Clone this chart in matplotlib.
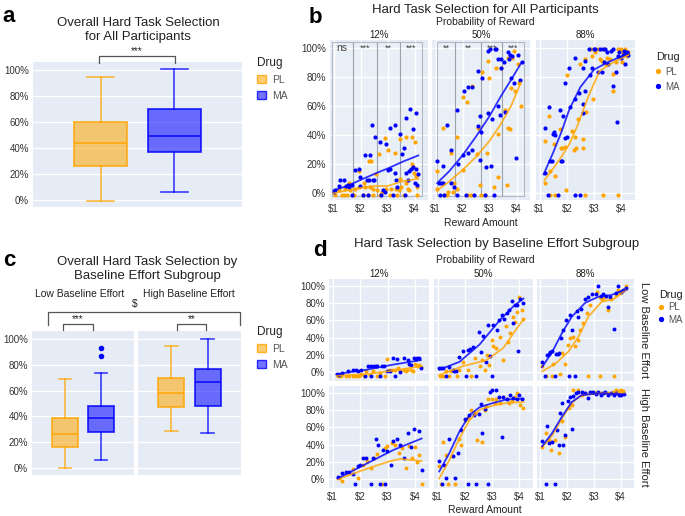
import matplotlib.pyplot as plt
from matplotlib.lines import Line2D
from matplotlib.patches import Patch, Rectangle
from matplotlib.colors import to_rgba
import matplotlib.transforms as mtransforms

plt.rcParams['font.family'] = ['Liberation Sans', 'DejaVu Sans']

# ---------------- data ----------------
drugs = ['PL', 'MA']
probs = ['12%', '50%', '88%']
subgroups = ['Low Baseline Effort', 'High Baseline Effort']
pct_ticks = [0, 0.2, 0.4, 0.6, 0.8, 1.0]
pct_labels = ['0%', '20%', '40%', '60%', '80%', '100%']
reward_ticks = [1, 2, 3, 4]
reward_labels = ['\\$1', '\\$2', '\\$3', '\\$4']

# box stats: whislo, q1, med, q3, whishi
a_pl = [-0.01, 0.26, 0.44, 0.60, 0.95]
a_ma = [0.06, 0.37, 0.49, 0.70, 1.01]
c_low_pl = [0.0, 0.16, 0.26, 0.385, 0.69]
c_low_ma = [0.06, 0.28, 0.39, 0.48, 0.74]
c_low_ma_out = [0.87, 0.93]
c_high_pl = [0.285, 0.47, 0.58, 0.695, 0.95]
c_high_ma = [0.27, 0.477, 0.665, 0.77, 1.0]

# significance bins in panel b (12% and 50%)
b12_bins = [0.93, 1.71, 2.61, 3.47, 4.26]
b12_sig = ['ns', '***', '**', '***']
b50_bins = [1.04, 1.74, 2.70, 3.48, 4.26]
b50_sig = ['**', '**', '***', '***']

# panel b points (reward, proportion)
b12_pl = [(1.05, -0.01), (1.20, 0.02), (1.30, -0.01), (1.39, -0.01), (1.43, 0.03), (1.51, -0.01), (1.58, 0.07),
          (1.60, 0.02), (1.73, -0.01), (1.76, -0.01), (1.80, 0.03), (1.93, 0.04), (1.95, 0.15), (2.08, -0.01),
          (2.14, 0.07), (2.18, 0.04), (2.26, -0.01), (2.33, 0.22), (2.35, 0.04), (2.39, 0.22), (2.45, 0.03),
          (2.48, -0.01), (2.58, 0.13), (2.60, 0.02), (2.70, 0.27), (2.73, -0.01), (2.80, 0.01), (2.89, 0.38),
          (2.95, 0.03), (3.01, 0.30), (3.08, -0.01), (3.14, 0.03), (3.26, 0.28), (3.30, 0.03), (3.35, -0.01),
          (3.43, 0.02), (3.45, 0.37), (3.48, 0.10), (3.51, 0.04), (3.60, -0.01), (3.68, 0.39), (3.70, 0.07),
          (3.75, 0.03), (3.80, 0.02), (3.89, 0.39), (3.90, 0.20), (3.95, 0.18), (3.98, 0.14), (4.01, 0.35),
          (4.05, 0.12), (4.08, 0.04), (4.10, -0.01)]
b12_ma = [(1.01, 0.01), (1.05, 0.02), (1.20, 0.05), (1.23, 0.09), (1.39, 0.09), (1.48, 0.05), (1.55, 0.06),
          (1.58, 0.04), (1.68, -0.01), (1.68, 0.06), (1.80, 0.16), (1.95, 0.17), (1.98, 0.11), (1.99, 0.05),
          (2.08, -0.01), (2.18, 0.26), (2.23, 0.09), (2.26, -0.01), (2.33, 0.09), (2.35, 0.26), (2.43, 0.47),
          (2.45, 0.09), (2.51, 0.09), (2.55, 0.39), (2.73, 0.35), (2.76, -0.01), (2.83, 0.02), (2.89, 0.01),
          (2.93, 0.34), (3.01, 0.16), (3.08, 0.45), (3.10, 0.17), (3.20, -0.01), (3.26, 0.47), (3.26, 0.14),
          (3.33, 0.09), (3.36, 0.04), (3.48, 0.41), (3.55, 0.27), (3.60, 0.31), (3.64, -0.01), (3.68, 0.52),
          (3.70, 0.14), (3.76, 0.09), (3.80, 0.15), (3.85, 0.58), (3.88, 0.17), (3.93, 0.44), (3.95, 0.18),
          (4.01, 0.07), (4.05, 0.55), (4.05, 0.17), (4.08, 0.06), (4.14, 0.13)]
b12_pl_fit = [(1.0, 0.0), (1.5, 0.02), (2.1, 0.04), (2.5, 0.05), (3.0, 0.05), (3.5, 0.08), (4.14, 0.10)]
b12_ma_fit = [(1.0, 0.02), (1.5, 0.05), (2.1, 0.10), (2.6, 0.14), (3.0, 0.17), (3.6, 0.22), (4.14, 0.26)]

b50_pl = [(1.05, 0.03), (1.07, 0.15), (1.26, 0.45), (1.32, -0.01), (1.44, -0.01), (1.47, 0.01), (1.59, 0.28),
          (1.63, 0.01), (1.67, 0.07), (1.79, 0.03), (1.81, 0.39), (2.00, 0.16), (2.01, 0.66), (2.16, 0.63),
          (2.21, -0.01), (2.31, -0.01), (2.37, 0.74), (2.53, 0.27), (2.56, 0.45), (2.65, 0.06), (2.68, -0.01),
          (2.74, 0.83), (2.83, -0.01), (2.90, 0.28), (2.93, 0.91), (2.99, 0.79), (3.15, 0.04), (3.23, 0.86),
          (3.30, 0.41), (3.32, 0.11), (3.44, 0.86), (3.57, 0.57), (3.64, 0.06), (3.67, 0.93), (3.67, 0.45),
          (3.77, 0.44), (3.81, 0.72), (3.85, 0.93), (3.89, 0.98), (3.94, 0.70), (4.04, 0.89), (4.10, 0.76),
          (4.16, 0.60)]
b50_ma = [(1.05, 0.22), (1.14, 0.07), (1.17, -0.01), (1.20, 0.07), (1.26, 0.19), (1.26, 0.07), (1.32, -0.01),
          (1.44, 0.47), (1.59, 0.07), (1.59, 0.30), (1.69, 0.04), (1.79, -0.01), (1.81, 0.57), (1.84, 0.20),
          (2.00, 0.26), (2.04, 0.70), (2.12, -0.01), (2.19, 0.73), (2.21, 0.28), (2.37, 0.73), (2.37, 0.30),
          (2.43, -0.01), (2.56, 0.84), (2.58, 0.46), (2.65, 0.53), (2.65, 0.23), (2.70, 0.42), (2.74, 0.79),
          (2.83, -0.01), (2.86, 0.18), (2.93, 0.55), (2.93, 0.98), (3.02, 0.99), (3.05, 0.19), (3.11, 0.51),
          (3.15, -0.01), (3.20, 0.99), (3.23, 0.99), (3.30, 0.60), (3.32, 0.92), (3.40, 0.54), (3.42, 0.86),
          (3.44, 0.92), (3.54, 0.90), (3.57, 0.56), (3.67, 0.97), (3.73, 0.92), (3.77, 0.95), (3.81, 0.79),
          (3.85, 0.94), (3.89, 0.76), (3.98, 0.24), (4.06, 0.95), (4.14, 0.78), (4.19, 0.90)]
b50_pl_fit = [(1.06, 0.02), (1.5, 0.08), (2.0, 0.16), (2.5, 0.25), (3.0, 0.36), (3.4, 0.47), (3.8, 0.60),
              (4.16, 0.76)]
b50_ma_fit = [(1.06, 0.07), (1.5, 0.15), (2.0, 0.26), (2.5, 0.39), (3.0, 0.53), (3.4, 0.66), (3.8, 0.78),
              (4.19, 0.90)]

b88_pl = [(1.20, 0.07), (1.20, 0.36), (1.35, 0.53), (1.37, -0.01), (1.38, 0.15), (1.55, -0.01), (1.53, 0.34),
          (1.56, 0.12), (1.75, 0.44), (1.77, 0.31), (1.84, 0.31), (1.93, 0.32), (1.97, 0.02), (1.99, 0.81),
          (2.18, 0.43), (2.26, 0.30), (2.30, 0.39), (2.33, 0.31), (2.42, 0.51), (2.48, 0.89), (2.58, 0.31),
          (2.60, 0.37), (2.65, -0.01), (2.66, 0.92), (2.70, 0.56), (2.87, 0.99), (2.91, 0.94), (2.97, 0.65),
          (3.03, 0.97), (3.15, 0.99), (3.22, 0.92), (3.28, 0.91), (3.33, -0.01), (3.36, 0.99), (3.44, 0.89),
          (3.48, 0.93), (3.58, 0.92), (3.68, 0.70), (3.70, 0.82), (3.80, 0.90), (3.88, -0.01), (3.89, 0.99),
          (3.97, 0.99), (4.01, 0.90), (4.07, 0.97), (4.13, 0.99), (4.22, 0.94), (4.26, 0.97)]
b88_ma = [(1.20, 0.14), (1.20, 0.45), (1.31, -0.01), (1.35, 0.59), (1.38, 0.22), (1.44, 0.22), (1.48, 0.41),
          (1.53, 0.42), (1.56, 0.40), (1.67, -0.01), (1.75, 0.57), (1.77, 0.22), (1.81, 0.22), (1.87, 0.53),
          (1.93, 0.38), (1.99, 0.39), (1.93, 0.76), (2.09, 0.86), (2.11, 0.59), (2.29, -0.01), (2.30, 0.65),
          (2.30, 0.93), (2.47, -0.01), (2.46, 0.69), (2.58, 0.55), (2.58, 0.61), (2.66, 0.70), (2.60, 0.86),
          (2.66, 0.91), (2.82, 0.99), (2.85, 0.81), (2.91, 0.86), (3.00, 0.99), (3.03, 0.99), (3.15, 0.83),
          (3.22, 0.99), (3.28, 0.83), (3.34, 0.99), (3.36, 0.90), (3.40, 0.99), (3.48, 0.97), (3.52, 0.89),
          (3.61, 0.98), (3.68, 0.74), (3.70, 0.99), (3.80, 0.83), (3.85, 0.49), (3.89, 0.94), (3.93, 0.97),
          (3.97, 0.93), (4.07, 0.95), (4.10, 0.98), (4.13, 0.89), (4.17, 0.96), (4.22, 0.97), (4.26, 0.95)]
b88_pl_fit = [(1.18, 0.09), (1.5, 0.17), (1.8, 0.25), (2.1, 0.34), (2.4, 0.47), (2.8, 0.67), (3.2, 0.84),
              (3.7, 0.90), (4.26, 0.95)]
b88_ma_fit = [(1.15, 0.13), (1.5, 0.28), (1.8, 0.42), (2.1, 0.58), (2.5, 0.73), (3.0, 0.85), (3.5, 0.90),
              (4.0, 0.94), (4.26, 0.97)]

# panel d points, low baseline effort
d12_low_pl = [(1.18, -0.04), (1.30, -0.04), (1.49, -0.04), (1.61, -0.04), (1.73, -0.04), (1.86, -0.04),
              (1.96, -0.04), (2.04, -0.02), (2.13, -0.04), (2.23, 0.01), (2.35, -0.03), (2.48, 0.01),
              (2.60, -0.04), (2.72, -0.01), (2.91, -0.04), (2.99, 0.15), (3.03, 0.03), (3.15, 0.03), (3.28, 0.03),
              (3.36, 0.05), (3.46, 0.01), (3.59, 0.03), (3.65, 0.01), (3.71, 0.03), (3.83, 0.03), (3.93, 0.01),
              (3.98, 0.10), (4.06, 0.07), (4.14, 0.08), (4.20, 0.06)]
d12_low_ma = [(1.15, -0.02), (1.24, -0.03), (1.36, -0.01), (1.55, 0.01), (1.73, 0.03), (1.86, 0.03),
              (1.92, 0.02), (2.04, 0.03), (2.17, -0.04), (2.29, 0.07), (2.38, -0.04), (2.41, 0.07), (2.50, 0.07),
              (2.57, 0.07), (2.62, 0.07), (2.72, -0.04), (2.78, 0.07), (2.85, 0.07), (2.97, 0.01), (3.09, 0.01),
              (3.19, 0.16), (3.28, -0.04), (3.34, 0.15), (3.46, 0.0), (3.59, 0.16), (3.73, 0.14), (3.77, 0.10),
              (3.86, 0.08), (3.96, 0.17), (4.02, 0.15), (4.08, 0.16), (4.14, 0.16), (4.20, 0.05)]
d12_low_pl_fit = [(1.15, -0.04), (2.23, -0.02), (3.22, 0.02), (4.2, 0.07)]
d12_low_ma_fit = [(1.15, -0.02), (2.23, 0.03), (3.22, 0.09), (4.2, 0.14)]

d50_low_pl = [(1.09, -0.04), (1.19, -0.04), (1.31, 0.01), (1.41, -0.04), (1.49, 0.01), (1.62, 0.03),
              (1.70, -0.04), (1.80, 0.03), (1.93, 0.12), (2.11, 0.03), (2.23, -0.04), (2.36, 0.16), (2.54, 0.07),
              (2.64, 0.14), (2.73, 0.03), (2.81, 0.20), (2.89, 0.08), (2.98, 0.37), (3.04, 0.30), (3.16, 0.28),
              (3.28, 0.41), (3.41, 0.14), (3.51, 0.53), (3.59, 0.35), (3.65, 0.45), (3.78, 0.64), (3.84, 0.58),
              (3.90, 0.70), (4.00, 0.87), (4.09, 0.72), (4.15, 0.61)]
d50_low_ma = [(1.06, 0.05), (1.12, 0.05), (1.21, 0.05), (1.31, -0.04), (1.43, 0.06), (1.56, 0.03), (1.62, 0.02),
              (1.68, 0.02), (1.78, 0.18), (1.93, 0.24), (2.05, -0.04), (2.11, 0.26), (2.20, 0.27), (2.30, 0.29),
              (2.42, -0.04), (2.52, 0.47), (2.60, 0.23), (2.67, 0.42), (2.77, 0.12), (2.85, 0.55), (2.91, 0.19),
              (3.01, -0.04), (3.04, 0.55), (3.19, 0.49), (3.26, 0.60), (3.35, 0.66), (3.43, 0.61), (3.53, 0.68),
              (3.63, 0.72), (3.72, 0.82), (3.78, 0.57), (3.84, 0.77), (3.90, 0.77), (3.96, 0.24), (4.02, 0.85),
              (4.15, 0.80)]
d50_low_pl_fit = [(1.06, -0.03), (1.93, 0.07), (2.79, 0.14), (3.41, 0.28), (3.78, 0.45), (4.15, 0.61)]
d50_low_ma_fit = [(1.06, 0.03), (1.8, 0.12), (2.54, 0.32), (3.28, 0.60), (3.78, 0.76), (4.15, 0.85)]

d88_low_pl = [(1.06, 0.07), (1.19, -0.04), (1.43, -0.04), (1.46, 0.10), (1.74, -0.02), (1.80, 0.22),
              (1.93, 0.10), (2.02, 0.32), (2.11, 0.39), (2.23, 0.41), (2.30, 0.30), (2.42, 0.37), (2.48, 0.49),
              (2.60, 0.57), (2.73, 0.68), (2.79, -0.04), (2.85, 0.78), (3.10, 0.93), (3.22, -0.04), (3.22, 0.87),
              (3.31, 0.84), (3.41, 0.87), (3.53, 0.72), (3.65, 0.85), (3.75, -0.04), (3.84, 0.89), (3.90, 0.95),
              (3.96, 0.91), (4.05, 0.94), (4.15, 0.96), (4.21, 0.99)]
d88_low_ma = [(1.06, 0.12), (1.16, -0.04), (1.25, 0.20), (1.31, 0.21), (1.37, 0.23), (1.43, 0.25), (1.53, -0.04),
              (1.58, 0.21), (1.65, 0.21), (1.70, 0.22), (1.78, 0.39), (1.86, 0.49), (1.95, 0.60), (2.05, -0.04),
              (2.11, 0.66), (2.17, 0.49), (2.30, -0.04), (2.36, 0.71), (2.42, 0.64), (2.52, 0.73), (2.67, 0.85),
              (2.79, 0.87), (2.91, 0.90), (3.06, 0.90), (3.16, 0.99), (3.26, 0.88), (3.35, 0.90), (3.47, 0.88),
              (3.53, 0.75), (3.59, 0.87), (3.75, 0.50), (3.84, 0.91), (3.90, 1.00), (4.02, 0.92), (4.09, 0.95),
              (4.21, 0.97)]
d88_low_pl_fit = [(1.06, 0.01), (1.56, 0.10), (2.05, 0.24), (2.42, 0.41), (2.79, 0.64), (3.28, 0.81),
                  (3.78, 0.85), (4.21, 0.96)]
d88_low_ma_fit = [(1.06, 0.06), (1.43, 0.23), (1.8, 0.45), (2.17, 0.64), (2.67, 0.80), (3.16, 0.87),
                  (3.65, 0.89), (4.21, 0.96)]

# panel d points, high baseline effort
d12_high_pl = [(1.22, 0.02), (1.36, -0.02), (1.55, 0.07), (1.73, 0.12), (1.92, 0.01), (2.10, 0.17), (2.25, 0.21),
               (2.41, 0.13), (2.50, 0.24), (2.62, 0.29), (2.78, -0.05), (2.91, 0.36), (2.99, 0.38), (3.15, 0.42),
               (3.28, 0.40), (3.40, 0.30), (3.52, 0.36), (3.65, 0.13), (3.77, 0.38), (3.90, 0.25), (3.98, 0.37),
               (4.06, 0.20), (4.14, 0.28), (4.23, -0.05)]
d12_high_ma = [(1.18, 0.03), (1.34, 0.07), (1.49, 0.08), (1.61, 0.08), (1.73, 0.06), (1.83, -0.05), (1.92, 0.15),
               (2.01, 0.17), (2.10, 0.25), (2.23, 0.25), (2.38, -0.05), (2.45, 0.25), (2.57, 0.47), (2.66, 0.39),
               (2.72, -0.05), (2.82, 0.34), (2.91, -0.05), (2.99, 0.33), (3.12, 0.16), (3.19, 0.44), (3.34, 0.47),
               (3.46, 0.39), (3.61, 0.25), (3.73, 0.53), (3.86, 0.37), (3.96, 0.58), (4.14, 0.56), (4.23, 0.11)]
d12_high_pl_fit = [(1.18, 0.0), (2.23, 0.12), (3.09, 0.21), (3.46, 0.235), (4.23, 0.21)]
d12_high_ma_fit = [(1.18, 0.01), (2.23, 0.18), (3.22, 0.34), (4.23, 0.47)]

d50_high_pl = [(1.06, 0.15), (1.12, -0.05), (1.21, 0.43), (1.31, 0.28), (1.37, -0.05), (1.53, 0.27),
               (1.65, -0.05), (1.78, 0.47), (1.86, 0.40), (1.99, 0.68), (2.11, 0.71), (2.23, 0.80), (2.36, 0.76),
               (2.44, 0.45), (2.64, 0.43), (2.73, 0.80), (2.79, 0.84), (2.85, 0.92), (2.98, 0.93), (3.10, 0.88),
               (3.16, 0.93), (3.28, 0.88), (3.41, 0.95), (3.53, 0.92), (3.63, 0.88), (3.72, 0.90), (3.84, 0.95),
               (3.90, 0.99), (4.02, 0.86), (4.15, 0.82)]
d50_high_ma = [(1.06, 0.21), (1.16, -0.05), (1.25, 0.17), (1.31, 0.01), (1.41, 0.47), (1.56, 0.27), (1.65, 0.01),
               (1.74, 0.30), (1.86, 0.57), (1.99, 0.70), (2.11, -0.05), (2.17, 0.74), (2.32, 0.74), (2.42, -0.05),
               (2.52, 0.75), (2.60, 0.87), (2.64, 0.53), (2.73, 0.81), (2.85, -0.05), (2.94, 1.01), (3.01, 1.03),
               (3.16, 1.03), (3.26, 0.95), (3.35, 0.49), (3.41, 0.95), (3.53, 0.93), (3.65, 0.97), (3.78, 0.94),
               (3.90, 0.92), (4.00, 0.97), (4.09, 0.93)]
d50_high_pl_fit = [(1.06, 0.01), (1.43, 0.22), (1.8, 0.47), (2.17, 0.68), (2.54, 0.80), (3.04, 0.85),
                   (3.53, 0.88), (4.15, 0.89)]
d50_high_ma_fit = [(1.06, 0.09), (1.43, 0.30), (1.8, 0.55), (2.17, 0.74), (2.54, 0.83), (3.04, 0.88),
                   (3.53, 0.92), (4.15, 0.93)]

d88_high_pl = [(1.06, 0.37), (1.21, 0.53), (1.31, 0.45), (1.41, 0.34), (1.56, 0.45), (1.68, 0.30), (1.80, 0.67),
               (1.93, 0.49), (2.05, 0.82), (2.17, 0.86), (2.23, 1.03), (2.42, 1.03), (2.54, 0.97), (2.67, 0.99),
               (2.91, 1.01), (3.10, 1.01), (3.28, 1.00), (3.53, 1.00), (3.72, 1.01), (3.84, 1.03), (3.93, 1.02),
               (4.02, 1.03), (4.09, 1.02)]
d88_high_ma = [(1.06, 0.44), (1.19, -0.05), (1.25, 0.61), (1.33, 0.42), (1.43, 0.43), (1.56, -0.05), (1.62, 0.57),
               (1.68, 0.40), (1.74, 0.76), (1.80, 0.88), (1.86, 0.40), (1.93, 0.51), (2.02, 0.90), (2.11, 0.95),
               (2.17, 0.58), (2.23, 0.96), (2.32, 0.99), (2.42, 1.01), (2.54, 1.01), (2.67, 0.99), (2.77, 0.94),
               (2.85, 1.01), (2.98, 1.01), (3.06, 0.98), (3.16, 1.01), (3.26, 0.97), (3.35, 0.99), (3.43, 1.01),
               (3.53, 0.97), (3.65, 0.99), (3.75, 0.97), (3.84, 0.99), (3.93, 0.97), (4.02, 0.97), (4.12, 0.98)]
d88_high_pl_fit = [(1.06, 0.37), (1.43, 0.50), (1.8, 0.70), (2.17, 0.88), (2.54, 0.97), (3.16, 0.99),
                   (4.15, 0.99)]
d88_high_ma_fit = [(1.06, 0.38), (1.43, 0.53), (1.8, 0.72), (2.17, 0.89), (2.54, 0.97), (3.16, 0.99),
                   (4.15, 0.98)]

# ---------------- style ----------------
W, H = 685, 516
PL_C = '#FFA500'
MA_C = '#0000FF'
BG = '#E5ECF6'
TXT = '#333333'

fig = plt.figure(figsize=(W / 100, H / 100), dpi=100)


def px_axes(x0, y0, x1, y1):
    return fig.add_axes([x0 / W, 1 - y1 / H, (x1 - x0) / W, (y1 - y0) / H])


def fig_text(x, y, s, **kw):
    kw.setdefault('ha', 'center')
    kw.setdefault('va', 'center')
    kw.setdefault('color', '#222222')
    fig.text(x / W, 1 - y / H, s, **kw)


def bracket(x0, x1, ytop, ybot):
    fig.add_artist(Line2D([x0 / W, x0 / W, x1 / W, x1 / W],
                          [1 - ybot / H, 1 - ytop / H, 1 - ytop / H, 1 - ybot / H],
                          color='#555555', lw=0.9, transform=fig.transFigure))


def base_style(ax, ylim, show_y=True):
    ax.set_facecolor(BG)
    for s in ax.spines.values():
        s.set_visible(False)
    ax.tick_params(length=0, labelsize=7, colors=TXT, pad=3)
    ax.set_ylim(*ylim)
    ax.set_yticks(pct_ticks)
    ax.set_yticklabels(pct_labels if show_y else [])
    ax.grid(True, color='white', lw=1.0)
    ax.set_axisbelow(True)


def box_panel(ax, stats_pl, stats_ma, fliers_ma=(), show_y=True):
    base_style(ax, (-0.055, 1.065), show_y)
    for stats, fl, pos, col in [(stats_pl, (), -0.177, PL_C), (stats_ma, fliers_ma, 0.177, MA_C)]:
        lo, q1, med, q3, hi = stats
        ax.bxp([dict(whislo=lo, q1=q1, med=med, q3=q3, whishi=hi, fliers=list(fl))],
               positions=[pos], widths=0.25, patch_artist=True,
               boxprops=dict(facecolor=to_rgba(col, 0.55), edgecolor=to_rgba(col, 0.8), lw=1.3),
               medianprops=dict(color=col, lw=1.3, alpha=0.8),
               whiskerprops=dict(color=col, lw=1.2, alpha=0.75),
               capprops=dict(color=col, lw=1.2, alpha=0.75),
               flierprops=dict(marker='o', markersize=3, markerfacecolor=col, markeredgecolor=col))
    ax.set_xlim(-0.5, 0.5)
    ax.set_xticks([])


def scatter_panel(ax, pl, ma, pl_fit, ma_fit, ylim, show_y, show_x, size=9):
    base_style(ax, ylim, show_y)
    ax.set_xlim(0.87, 4.5)
    ax.set_xticks(reward_ticks)
    ax.set_xticklabels(reward_labels if show_x else [])
    for pts, col in [(pl, PL_C), (ma, MA_C)]:
        xs, ys = zip(*pts)
        ax.scatter(xs, ys, s=size, color=col, linewidths=0, zorder=3)
    for fit, col in [(pl_fit, PL_C), (ma_fit, MA_C)]:
        fx, fy = zip(*fit)
        ax.plot(fx, fy, color=col, lw=1.3, alpha=0.8, zorder=4)


def sig_bands(ax, bins, labels):
    trans = mtransforms.blended_transform_factory(ax.transData, ax.transAxes)
    for lo, hi, lab in zip(bins[:-1], bins[1:], labels):
        ax.add_patch(Rectangle((lo, 0.025), hi - lo, 0.965, transform=trans, facecolor='white', alpha=0.18,
                               edgecolor='none', zorder=1))
        ax.add_patch(Rectangle((lo, 0.025), hi - lo, 0.965, transform=trans, facecolor='none',
                               edgecolor='#8f969e', lw=0.8, alpha=0.6, zorder=2))
        ax.text((lo + hi) / 2, 0.95, lab, transform=trans, ha='center', va='center',
                fontsize=7.5 if lab == 'ns' else 6.5, color='#444444', zorder=5)


box_handles = [Patch(facecolor=to_rgba(PL_C, 0.55), edgecolor=to_rgba(PL_C, 0.8), label='PL'),
               Patch(facecolor=to_rgba(MA_C, 0.55), edgecolor=to_rgba(MA_C, 0.8), label='MA')]
dot_handles = [Line2D([], [], marker='o', ls='', color=PL_C, markersize=2.8, label='PL'),
               Line2D([], [], marker='o', ls='', color=MA_C, markersize=2.8, label='MA')]


def legend(x, y, handles, spacing, hlen=0.8, tpad=0.6, fs=7.5, tfs=8.5):
    leg = fig.legend(handles=handles, title='Drug', loc='upper left', bbox_to_anchor=(x / W, 1 - y / H),
                     frameon=False, fontsize=fs, title_fontsize=tfs, borderpad=0, handlelength=hlen,
                     handleheight=0.8, handletextpad=tpad, labelspacing=spacing, alignment='left')
    for t in leg.get_texts():
        t.set_color('#555555')
    leg.get_title().set_color('#222222')


# ---------------- panel a ----------------
ax_a = px_axes(33, 62, 242, 207)
box_panel(ax_a, a_pl, a_ma)
fig_text(9, 16, 'a', fontsize=16, fontweight='bold', color='black')
fig_text(138, 22.5, 'Overall Hard Task Selection', fontsize=9.5)
fig_text(138, 37, 'for All Participants', fontsize=9.5)
bracket(99, 175, 56, 63)
fig_text(137, 51, '***', fontsize=7)
legend(252, 52, box_handles, 0.55)

# ---------------- panel b ----------------
b_sets = [(b12_pl, b12_ma, b12_pl_fit, b12_ma_fit), (b50_pl, b50_ma, b50_pl_fit, b50_ma_fit),
          (b88_pl, b88_ma, b88_pl_fit, b88_ma_fit)]
b_cols = [(330, 428), (432, 530), (536, 635)]
for i, ((x0, x1), data, prob) in enumerate(zip(b_cols, b_sets, probs)):
    ax = px_axes(x0, 40, x1, 200)
    scatter_panel(ax, *data, ylim=(-0.046, 1.053), show_y=(i == 0), show_x=True)
    fig_text((x0 + x1) / 2, 34.5, prob, fontsize=7)
    if i == 0:
        sig_bands(ax, b12_bins, b12_sig)
    elif i == 1:
        sig_bands(ax, b50_bins, b50_sig)
fig_text(315, 17, 'b', fontsize=16, fontweight='bold', color='black')
fig_text(485, 10.5, 'Hard Task Selection for All Participants', fontsize=9.5)
fig_text(485, 22, 'Probability of Reward', fontsize=7.5)
fig_text(481, 223, 'Reward Amount', fontsize=7.5)
legend(651, 47, dot_handles, 0.5, hlen=0.5, tpad=0.5, fs=7, tfs=7.8)

# ---------------- panel c ----------------
ax_c1 = px_axes(32, 330.7, 134, 475)
box_panel(ax_c1, c_low_pl, c_low_ma, c_low_ma_out)
ax_c2 = px_axes(138, 330.7, 241, 475)
box_panel(ax_c2, c_high_pl, c_high_ma, show_y=False)
fig_text(9, 260, 'c', fontsize=16, fontweight='bold', color='black')
fig_text(147, 261.5, 'Overall Hard Task Selection by', fontsize=9.5)
fig_text(147, 276.5, 'Baseline Effort Subgroup', fontsize=9.5)
fig_text(80, 294, subgroups[0], fontsize=7.5)
fig_text(188.5, 294, subgroups[1], fontsize=7.5)
fig_text(135, 304, '\\$', fontsize=7.5)
bracket(48, 240, 312, 325)
bracket(63, 93, 324, 330)
fig_text(78, 319.5, '***', fontsize=7)
bracket(177, 206, 324, 330)
fig_text(191.5, 319.5, '**', fontsize=7)
legend(252, 321, box_handles, 0.55)

# ---------------- panel d ----------------
d_rows = [[(d12_low_pl, d12_low_ma, d12_low_pl_fit, d12_low_ma_fit),
           (d50_low_pl, d50_low_ma, d50_low_pl_fit, d50_low_ma_fit),
           (d88_low_pl, d88_low_ma, d88_low_pl_fit, d88_low_ma_fit)],
          [(d12_high_pl, d12_high_ma, d12_high_pl_fit, d12_high_ma_fit),
           (d50_high_pl, d50_high_ma, d50_high_pl_fit, d50_high_ma_fit),
           (d88_high_pl, d88_high_ma, d88_high_pl_fit, d88_high_ma_fit)]]
d_cols = [(329, 429), (434, 533), (537, 634)]
d_ys = [(279, 381), (386, 488)]
for r, ((y0, y1), row) in enumerate(zip(d_ys, d_rows)):
    for c, ((x0, x1), data) in enumerate(zip(d_cols, row)):
        ax = px_axes(x0, y0, x1, y1)
        scatter_panel(ax, *data, ylim=(-0.10, 1.075), show_y=(c == 0), show_x=(r == 1), size=8)
        if r == 0:
            fig_text((x0 + x1) / 2, 274, probs[c], fontsize=7)
    fig_text(644, (y0 + y1) / 2, subgroups[r], fontsize=8, rotation=-90)
fig_text(320, 250, 'd', fontsize=16, fontweight='bold', color='black')
fig_text(497, 244, 'Hard Task Selection by Baseline Effort Subgroup', fontsize=9.5)
fig_text(485, 260, 'Probability of Reward', fontsize=7.5)
fig_text(485, 510, 'Reward Amount', fontsize=7.5)
legend(654, 285, dot_handles, 0.25, hlen=0.5, tpad=0.45, fs=7, tfs=7.8)

fig.savefig('out.png', dpi=100, facecolor='white')
